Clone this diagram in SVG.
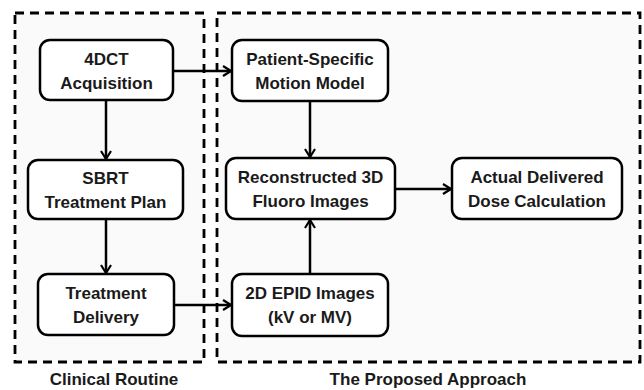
<svg xmlns="http://www.w3.org/2000/svg" width="644" height="390" viewBox="0 0 644 390">
<defs>
<marker id="arr" viewBox="0 0 10 12" refX="9" refY="6" markerWidth="10" markerHeight="12" markerUnits="userSpaceOnUse" orient="auto">
<path d="M1,1 L9,6 L1,11" fill="none" stroke="#000" stroke-width="2.2"/>
</marker>
</defs>
<style>
.region{fill:#fafafa;stroke:#000;stroke-width:2.8;stroke-dasharray:9 6}
.box{fill:#fff;stroke:#000;stroke-width:2.5}
.t{font-family:"Liberation Sans",Arial,sans-serif;font-weight:bold;font-size:17px;text-anchor:middle;fill:#1a1a1a}
.c{fill:none;stroke:#000;stroke-width:2.5}
</style>
<rect width="644" height="390" fill="#fff"/>
<g id="clinical-routine">
<rect class="region" x="15" y="13" width="189" height="349"/>
<text class="t" x="114" y="385">Clinical Routine</text>
</g>
<g id="proposed-approach">
<rect class="region" x="217" y="13" width="423" height="349"/>
<text class="t" x="428" y="385">The Proposed Approach</text>
</g>
<g id="connectors">
<line class="c" x1="173" y1="71" x2="231" y2="71" marker-end="url(#arr)"/>
<line class="c" x1="106" y1="100" x2="106" y2="159" marker-end="url(#arr)"/>
<line class="c" x1="106" y1="219" x2="106" y2="273" marker-end="url(#arr)"/>
<line class="c" x1="174" y1="305" x2="231" y2="305" marker-end="url(#arr)"/>
<line class="c" x1="310" y1="101" x2="310" y2="157" marker-end="url(#arr)"/>
<line class="c" x1="310" y1="274" x2="310" y2="220" marker-end="url(#arr)"/>
<line class="c" x1="395" y1="189" x2="451" y2="189" marker-end="url(#arr)"/>
</g>
<g id="n-4dct">
<rect class="box" x="40" y="40" width="133" height="60" rx="10"/>
<text class="t" x="106.5" y="65">4DCT</text>
<text class="t" x="106.5" y="89">Acquisition</text>
</g>
<g id="n-sbrt">
<rect class="box" x="28" y="160" width="155" height="59" rx="10"/>
<text class="t" x="105.5" y="184">SBRT</text>
<text class="t" x="105.5" y="208">Treatment Plan</text>
</g>
<g id="n-delivery">
<rect class="box" x="38" y="274" width="136" height="61" rx="10"/>
<text class="t" x="106" y="299">Treatment</text>
<text class="t" x="106" y="323">Delivery</text>
</g>
<g id="n-motion">
<rect class="box" x="232" y="40" width="156" height="61" rx="10"/>
<text class="t" x="310" y="65">Patient-Specific</text>
<text class="t" x="310" y="89">Motion Model</text>
</g>
<g id="n-recon">
<rect class="box" x="226" y="158" width="169" height="61" rx="10"/>
<text class="t" x="310.5" y="183">Reconstructed 3D</text>
<text class="t" x="310.5" y="207">Fluoro Images</text>
</g>
<g id="n-dose">
<rect class="box" x="452" y="158" width="170" height="61" rx="10"/>
<text class="t" x="537" y="183">Actual Delivered</text>
<text class="t" x="537" y="207">Dose Calculation</text>
</g>
<g id="n-epid">
<rect class="box" x="232" y="274" width="156" height="62" rx="10"/>
<text class="t" x="310" y="299">2D EPID Images</text>
<text class="t" x="310" y="323">(kV or MV)</text>
</g>
</svg>
